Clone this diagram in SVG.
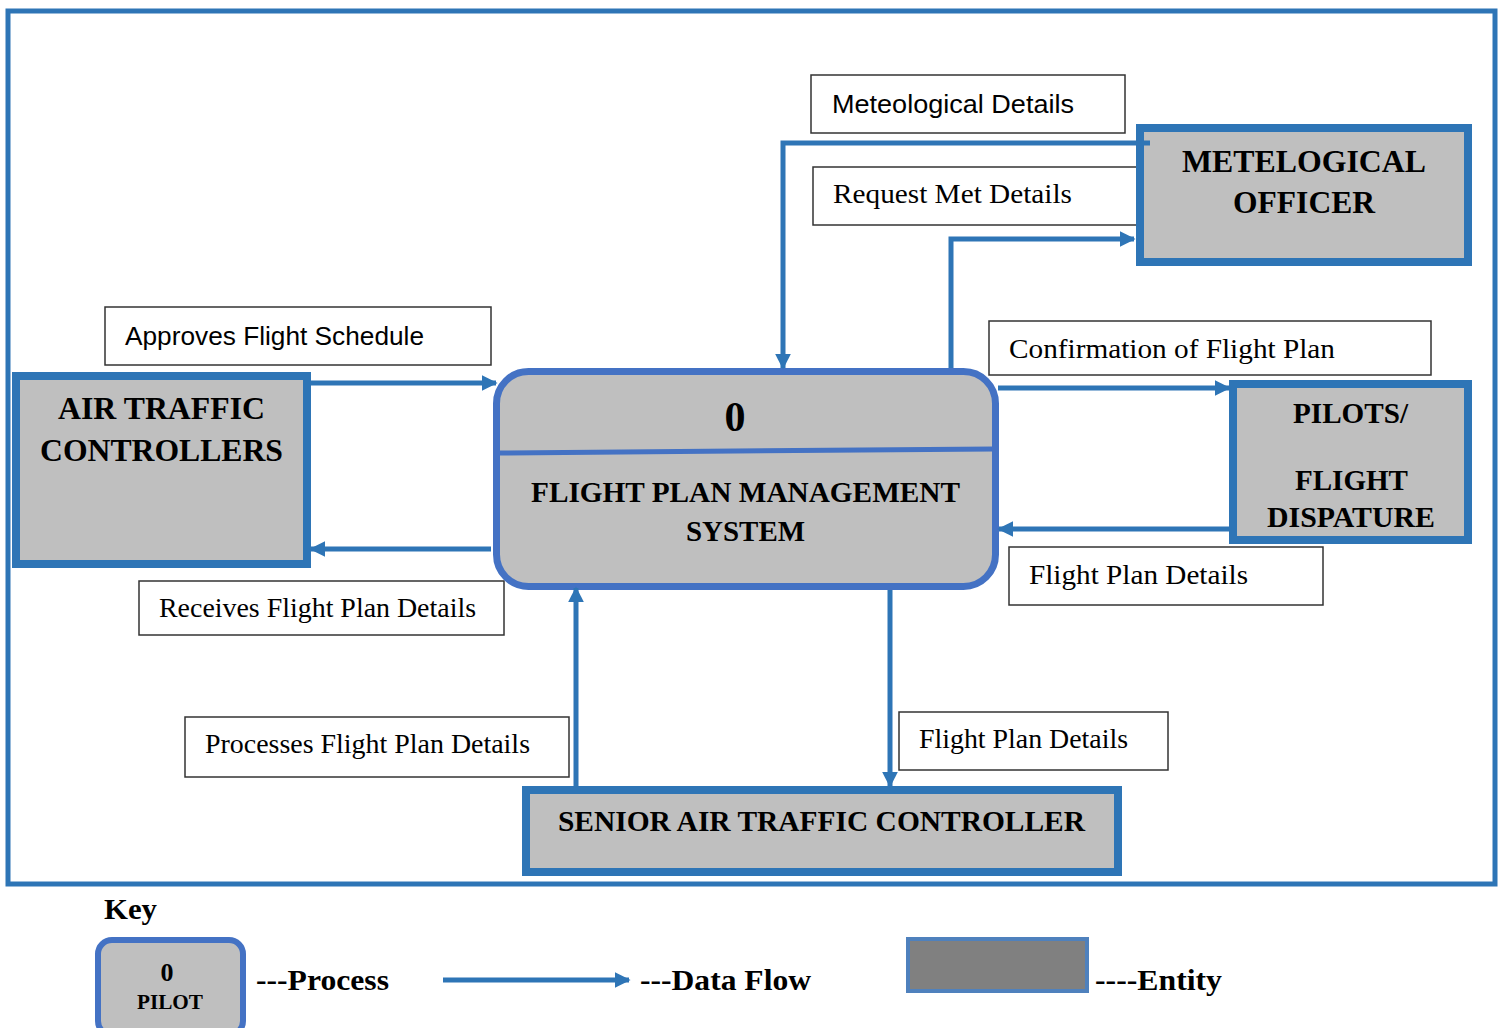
<svg xmlns="http://www.w3.org/2000/svg" width="1502" height="1028" viewBox="0 0 1502 1028">
<style>
.ent{fill:#BFBFBF;stroke:#2E75B6;stroke-width:8}
.proc{fill:#BFBFBF;stroke:#4472C4;stroke-width:7}
.lbl{fill:#fff;stroke:#333;stroke-width:1.5}
.flow{fill:none;stroke:#2E75B6;stroke-width:5}
.arr{marker-end:url(#ah)}
.sans{font-family:"Liberation Sans","Open Sans",sans-serif;font-size:26px;fill:#000}
.ser{font-family:"Liberation Serif","Times New Roman",serif;font-size:27px;fill:#000}
.title{font-family:"Liberation Serif","Times New Roman",serif;font-weight:bold;fill:#000}
</style>
<defs>
<marker id="ah" viewBox="0 0 10 10" refX="9" refY="5" markerUnits="userSpaceOnUse" markerWidth="16" markerHeight="16" orient="auto">
<path d="M0,0 L10,5 L0,10 z" fill="#2E75B6"/>
</marker>
</defs>
<rect x="8" y="11" width="1487" height="873" fill="#fff" stroke="#2E75B6" stroke-width="5"/>

<g id="lbl-met-details">
<rect class="lbl" x="811" y="75" width="314" height="58"/>
<text class="sans" x="832" y="113" textLength="242" lengthAdjust="spacingAndGlyphs">Meteological Details</text>
</g>
<g id="lbl-request-met">
<rect class="lbl" x="813" y="167" width="327" height="58"/>
<text class="ser" x="833" y="203" textLength="239" lengthAdjust="spacingAndGlyphs">Request Met Details</text>
</g>
<g id="lbl-approves">
<rect class="lbl" x="105" y="307" width="386" height="58"/>
<text class="sans" x="125" y="345" textLength="299" lengthAdjust="spacingAndGlyphs">Approves Flight Schedule</text>
</g>
<g id="lbl-confirm">
<rect class="lbl" x="989" y="321" width="442" height="54"/>
<text class="ser" x="1009" y="358" textLength="326" lengthAdjust="spacingAndGlyphs">Confirmation of Flight Plan</text>
</g>
<g id="lbl-fpd-right">
<rect class="lbl" x="1009" y="547" width="314" height="58"/>
<text class="ser" x="1029" y="584" textLength="219" lengthAdjust="spacingAndGlyphs">Flight Plan Details</text>
</g>
<g id="lbl-receives">
<rect class="lbl" x="139" y="581" width="365" height="54"/>
<text class="ser" x="159" y="617" textLength="317" lengthAdjust="spacingAndGlyphs">Receives Flight Plan Details</text>
</g>
<g id="lbl-processes">
<rect class="lbl" x="185" y="717" width="384" height="60"/>
<text class="ser" x="205" y="753" textLength="325" lengthAdjust="spacingAndGlyphs">Processes Flight Plan Details</text>
</g>
<g id="lbl-fpd-bottom">
<rect class="lbl" x="899" y="712" width="269" height="58"/>
<text class="ser" x="919" y="748" textLength="209" lengthAdjust="spacingAndGlyphs">Flight Plan Details</text>
</g>

<g id="met-officer">
<rect class="ent" x="1140" y="128" width="328" height="134"/>
<text class="title" style="font-size:31px" x="1182" y="172" textLength="244" lengthAdjust="spacingAndGlyphs">METELOGICAL</text>
<text class="title" style="font-size:31px" x="1233" y="213" textLength="142" lengthAdjust="spacingAndGlyphs">OFFICER</text>
</g>
<g id="atc">
<rect class="ent" x="16" y="376" width="291" height="188"/>
<text class="title" style="font-size:31px" x="58" y="419" textLength="207" lengthAdjust="spacingAndGlyphs">AIR TRAFFIC</text>
<text class="title" style="font-size:31px" x="40" y="461" textLength="243" lengthAdjust="spacingAndGlyphs">CONTROLLERS</text>
</g>
<g id="pilots">
<rect class="ent" x="1233" y="384" width="235" height="156"/>
<text class="title" style="font-size:29px" x="1293" y="423" textLength="115" lengthAdjust="spacingAndGlyphs">PILOTS/</text>
<text class="title" style="font-size:29px" x="1295" y="490" textLength="113" lengthAdjust="spacingAndGlyphs">FLIGHT</text>
<text class="title" style="font-size:29px" x="1267" y="527" textLength="168" lengthAdjust="spacingAndGlyphs">DISPATURE</text>
</g>
<g id="senior-atc">
<rect class="ent" x="526" y="790" width="592" height="82"/>
<text class="title" style="font-size:29px" x="558" y="831" textLength="527" lengthAdjust="spacingAndGlyphs">SENIOR AIR TRAFFIC CONTROLLER</text>
</g>
<g id="process-0">
<rect class="proc" x="496.5" y="371.5" width="499" height="215" rx="32"/>
<line x1="498" y1="453" x2="994" y2="449" stroke="#4472C4" stroke-width="5"/>
<text class="title" style="font-size:42px" x="735" y="431" text-anchor="middle">0</text>
<text class="title" style="font-size:29px" x="531" y="502" textLength="429" lengthAdjust="spacingAndGlyphs">FLIGHT PLAN MANAGEMENT</text>
<text class="title" style="font-size:29px" x="686" y="541" textLength="119" lengthAdjust="spacingAndGlyphs">SYSTEM</text>
</g>

<g id="connectors">
<path class="flow arr" d="M1150,143 H783 V368"/>
<path class="flow arr" d="M951,368 V239 H1134"/>
<path class="flow arr" d="M311,383 H496"/>
<path class="flow arr" d="M491,549 H311"/>
<path class="flow arr" d="M998,388 H1229"/>
<path class="flow arr" d="M1229,529 H999"/>
<path class="flow arr" d="M576,788 V588"/>
<path class="flow arr" d="M890,590 V786"/>
</g>

<g id="key">
<text class="title" style="font-size:30px" x="104" y="919" textLength="53" lengthAdjust="spacingAndGlyphs">Key</text>
<rect x="98" y="940" width="145" height="95" rx="14" fill="#BFBFBF" stroke="#4472C4" stroke-width="6"/>
<text class="title" style="font-size:26px" x="167" y="981" text-anchor="middle">0</text>
<text class="title" style="font-size:20px" x="137" y="1009" textLength="66" lengthAdjust="spacingAndGlyphs">PILOT</text>
<text class="title" style="font-size:30px" x="256" y="990" textLength="133" lengthAdjust="spacingAndGlyphs">---Process</text>
<path class="flow arr" d="M443,980 H629"/>
<text class="title" style="font-size:30px" x="640" y="990" textLength="171" lengthAdjust="spacingAndGlyphs">---Data Flow</text>
<rect x="908" y="939" width="179" height="52" fill="#808080" stroke="#4F81BD" stroke-width="4"/>
<text class="title" style="font-size:30px" x="1095" y="990" textLength="127" lengthAdjust="spacingAndGlyphs">----Entity</text>
</g>
</svg>
